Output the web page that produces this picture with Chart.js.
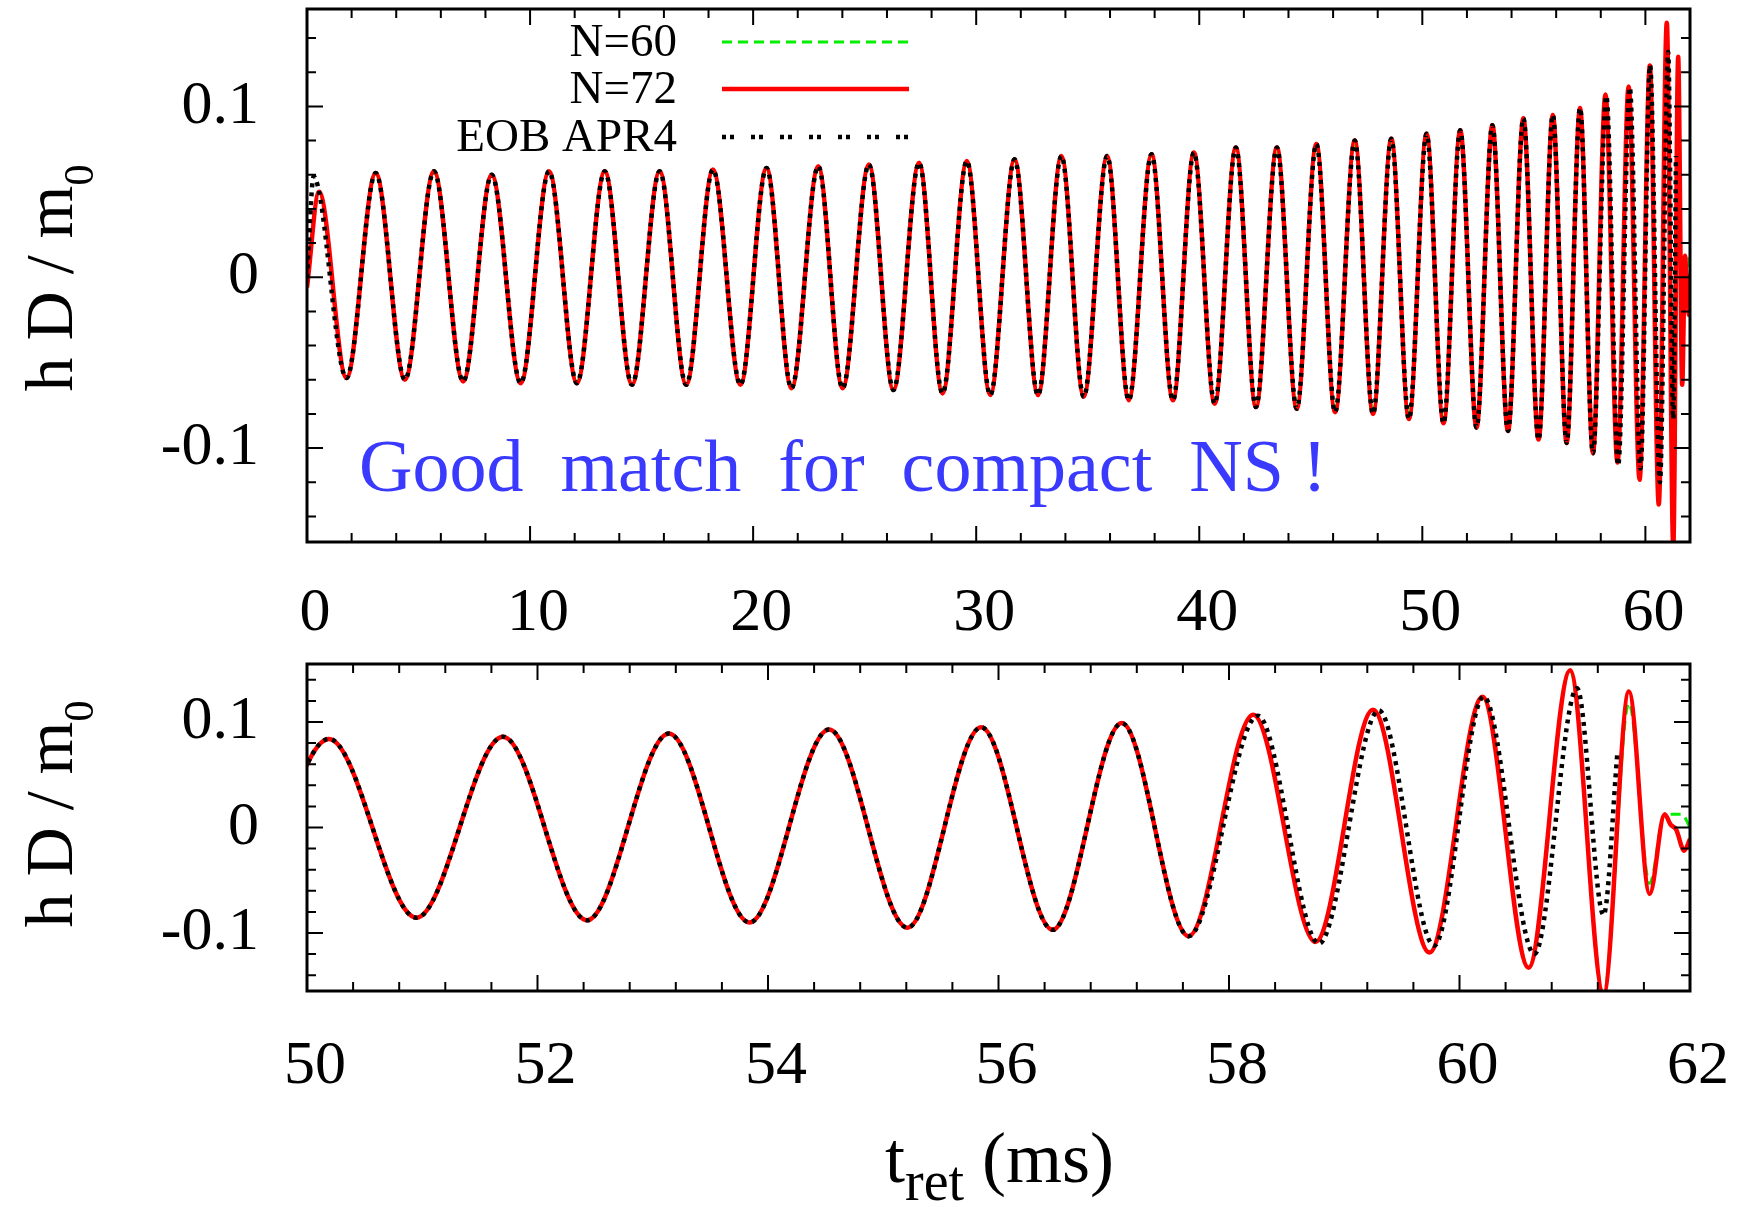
<!DOCTYPE html>
<html>
<head>
<meta charset="utf-8">
<script src="https://cdn.jsdelivr.net/npm/chart.js@4.4.1/dist/chart.umd.min.js"></script>
<style>
  body { margin: 0; background: #fff; width: 1742px; height: 1207px; overflow: hidden; position: relative; }
  canvas { position: absolute; left: 0; }
  #c1 { top: 0; }
  #c2 { top: 650px; }
</style>
</head>
<body>
<canvas id="c1" width="1742" height="650"></canvas>
<canvas id="c2" width="1742" height="557"></canvas>
<script>
// t_ret in ms, hD/m0 at each extremum of the wave
// the inspiral part is the same for all three curves
const tInsp = [1.77, 3.08, 4.39, 5.69, 7.00, 8.28, 9.58, 10.85, 12.10, 13.35, 14.57, 15.81, 17.00, 18.20,
  19.43, 20.60, 21.72, 22.92, 24.01, 25.19, 26.29, 27.44, 28.49, 29.58, 30.63, 31.72, 32.77, 33.82,
  34.82, 35.87, 36.84, 37.86, 38.82, 39.76, 40.69, 41.64, 42.54, 43.48, 44.37, 45.25, 46.09, 46.97,
  47.79, 48.61, 49.40, 50.19, 50.95, 51.70, 52.43, 53.14, 53.84, 54.53, 55.21, 55.85, 56.47, 57.07, 57.65]
const hInsp = [-0.059, 0.061, -0.060, 0.062, -0.061, 0.060, -0.062, 0.062, -0.062, 0.062, -0.063, 0.062, -0.063, 0.063,
  -0.063, 0.064, -0.065, 0.065, -0.065, 0.066, -0.066, 0.067, -0.068, 0.068, -0.069, 0.069, -0.069, 0.071,
  -0.070, 0.071, -0.072, 0.072, -0.072, 0.073, -0.074, 0.076, -0.076, 0.076, -0.077, 0.078, -0.079, 0.080,
  -0.080, 0.081, -0.083, 0.084, -0.0855, 0.086, -0.088, 0.089, -0.090, 0.093, -0.095, 0.095, -0.097, 0.099, -0.103]

// first half cycle
const tHeadNR = [0, 0.54]
const hHeadNR = [-0.006, 0.050]
const tHeadEob = [0, 0.30, 0.54]
const hHeadEob = [0.0, 0.059, 0.050]

// merger part
const tTail72 = [58.21, 58.75, 59.25, 59.74, 60.20, 60.60, 60.96, 61.25, 61.47, 61.65, 61.78, 61.83, 61.88, 61.95, 62.0]
const hTail72 = [0.107, -0.1085, 0.1116, -0.1186, 0.124, -0.133, 0.149, -0.158, 0.129, -0.063, 0.0126, 0.003, -0.002, -0.022, -0.011]
const tTail60 = [58.21, 58.75, 59.25, 59.74, 60.20, 60.60, 60.96, 61.25, 61.47, 61.65, 61.78, 61.93, 62.0]
const hTail60 = [0.107, -0.1085, 0.1116, -0.1186, 0.124, -0.133, 0.149, -0.158, 0.118, -0.053, 0.0126, 0.0126, 0.0]
const tTailEob = [58.25, 58.78, 59.30, 59.78, 60.21, 60.65, 61.02, 61.25, 61.37]
const hTailEob = [0.106, -0.110, 0.111, -0.112, 0.124, -0.120, 0.132, -0.083, 0.071]

const topXTicks = [0, 10, 20, 30, 40, 50, 60]
const botXTicks = [50, 52, 54, 56, 58, 60, 62]
const yTicks = [-0.1, 0, 0.1]
const yTickLabels = ['-0.1', '0', '0.1']

const FONT = '"Liberation Serif", "Times New Roman", serif'

const pts = (t, h) => t.map((x, i) => ({ x: x, y: h[i] }))
const curve = (t0, h0, t1, h1) => pts(t0.concat(tInsp, t1), h0.concat(hInsp, h1))

function makeDatasets() {
  return [
    {
      label: 'N=60',
      data: curve(tHeadNR, hHeadNR, tTail60, hTail60),
      borderColor: '#00ee00', borderWidth: 3, borderDash: [10, 6], order: 3
    },
    {
      label: 'N=72',
      data: curve(tHeadNR, hHeadNR, tTail72, hTail72),
      borderColor: '#ff0000', borderWidth: 4.5, order: 2
    },
    {
      label: 'EOB APR4',
      data: curve(tHeadEob, hHeadEob, tTailEob, hTailEob),
      borderColor: '#000000', borderWidth: 4.5, borderDash: [4, 5], legendDash: [4, 4, 4, 17], order: 1
    }
  ].map(d => Object.assign(d, { pointRadius: 0, cubicInterpolationMode: 'monotone', fill: false, clip: 0 }))
}

// gnuplot-like frame: inward ticks on all four sides, titles, legend, note
const gp = {
  id: 'gp',
  afterDraw(chart, args, o) {
    const ctx = chart.ctx, a = chart.chartArea, xs = chart.scales.x, ys = chart.scales.y
    ctx.save()
    ctx.strokeStyle = '#000'
    ctx.lineWidth = 2
    ctx.beginPath()
    const marks = (scale, major, minor, fn) => {
      const start = Math.ceil(scale.min / minor - 1e-6)
      const end = Math.floor(scale.max / minor + 1e-6)
      for (let i = start; i <= end; i++) {
        const v = i * minor
        const isMajor = major.some(m => Math.abs(m - v) < minor / 10)
        fn(scale.getPixelForValue(v), isMajor ? 16 : 9)
      }
    }
    marks(xs, o.xMajor, o.xMinor, (p, len) => {
      if (p <= a.left + 1 || p >= a.right - 1) return
      ctx.moveTo(p, a.bottom); ctx.lineTo(p, a.bottom - len)
      ctx.moveTo(p, a.top); ctx.lineTo(p, a.top + len)
    })
    marks(ys, yTicks, 0.02, (p, len) => {
      if (p <= a.top + 1 || p >= a.bottom - 1) return
      ctx.moveTo(a.left, p); ctx.lineTo(a.left + len, p)
      ctx.moveTo(a.right, p); ctx.lineTo(a.right - len, p)
    })
    ctx.stroke()
    ctx.lineWidth = 3
    ctx.strokeRect(a.left, a.top, a.right - a.left, a.bottom - a.top)

    ctx.fillStyle = '#000'
    ctx.textBaseline = 'alphabetic'
    ctx.textAlign = 'left'

    // y title with subscript
    ctx.save()
    ctx.translate(o.yTitle[0], o.yTitle[1])
    ctx.rotate(-Math.PI / 2)
    ctx.font = '68px ' + FONT
    const w1 = ctx.measureText('h D / m').width
    ctx.font = '42px ' + FONT
    const w2 = ctx.measureText('0').width
    const x0 = -(w1 + w2) / 2
    ctx.font = '68px ' + FONT
    ctx.fillText('h D / m', x0, 0)
    ctx.font = '42px ' + FONT
    ctx.fillText('0', x0 + w1, 21)
    ctx.restore()

    if (o.xTitle) {
      let x = o.xTitle[0]
      const y = o.xTitle[1]
      ctx.font = '72px ' + FONT
      ctx.fillText('t', x, y)
      x += ctx.measureText('t').width
      ctx.font = '56px ' + FONT
      ctx.fillText('ret', x, y + 18)
      x += ctx.measureText('ret').width
      ctx.font = '72px ' + FONT
      ctx.fillText(' (ms)', x, y)
    }

    if (o.note) {
      ctx.fillStyle = '#3a3aff'
      ctx.font = '74px ' + FONT
      ctx.fillText('Good  match  for  compact  NS !', 359, 491)
    }

    if (o.legend) {
      const rows = [42, 89, 137]
      ctx.font = '47px ' + FONT
      ctx.textAlign = 'right'
      ctx.textBaseline = 'middle'
      chart.data.datasets.forEach((d, i) => {
        ctx.fillStyle = '#000'
        ctx.fillText(d.label, 677, rows[i] + 2)
        ctx.strokeStyle = d.borderColor
        ctx.lineWidth = d.borderWidth
        ctx.setLineDash(d.legendDash || d.borderDash || [])
        ctx.beginPath()
        ctx.moveTo(722, rows[i]); ctx.lineTo(909, rows[i])
        ctx.stroke()
      })
      ctx.setLineDash([])
    }
    ctx.restore()
  }
}

function makeChart(id, xmin, xmax, xTicks, opts) {
  return new Chart(document.getElementById(id), {
    type: 'line',
    data: { datasets: makeDatasets() },
    options: {
      responsive: false,
      animation: false,
      events: [],
      layout: { padding: { left: 0, right: 52, top: opts.padTop, bottom: 0 } },
      plugins: {
        legend: { display: false },
        tooltip: { enabled: false },
        gp: opts.gp
      },
      scales: {
        x: {
          type: 'linear', min: xmin, max: xmax,
          grid: { display: false, drawTicks: false },
          border: { display: false },
          afterBuildTicks: s => { s.ticks = xTicks.map(v => ({ value: v })) },
          afterFit: s => { s.height = opts.xHeight; s.paddingLeft = 0; s.paddingRight = 0; s.paddingTop = 0; s.paddingBottom = 0 },
          ticks: {
            autoSkip: false, maxRotation: 0, padding: opts.xPad, labelOffset: 8,
            color: '#000', font: { family: FONT, size: 62 },
            callback: v => String(v)
          }
        },
        y: {
          min: opts.ymin, max: opts.ymax,
          grid: { display: false, drawTicks: false },
          border: { display: false },
          afterBuildTicks: s => { s.ticks = yTicks.map(v => ({ value: v })) },
          afterFit: s => { s.width = 307; s.paddingTop = 0; s.paddingBottom = 0; s.paddingLeft = 0; s.paddingRight = 0 },
          ticks: {
            padding: 48, color: '#000', font: { family: FONT, size: 62 },
            callback: v => yTickLabels[yTicks.indexOf(v)]
          }
        }
      }
    },
    plugins: [gp]
  })
}

makeChart('c1', 0, 62, topXTicks, {
  padTop: 9, xHeight: 108, xPad: 35, ymin: -0.155, ymax: 0.157,
  gp: { xMajor: topXTicks, xMinor: 2, yTitle: [72, 278], legend: true, note: true }
})

makeChart('c2', 50, 62, botXTicks, {
  padTop: 14, xHeight: 216, xPad: 39, ymin: -0.155, ymax: 0.155,
  gp: { xMajor: botXTicks, xMinor: 0.4, yTitle: [72, 164], xTitle: [885, 532] }
})
</script>
</body>
</html>
